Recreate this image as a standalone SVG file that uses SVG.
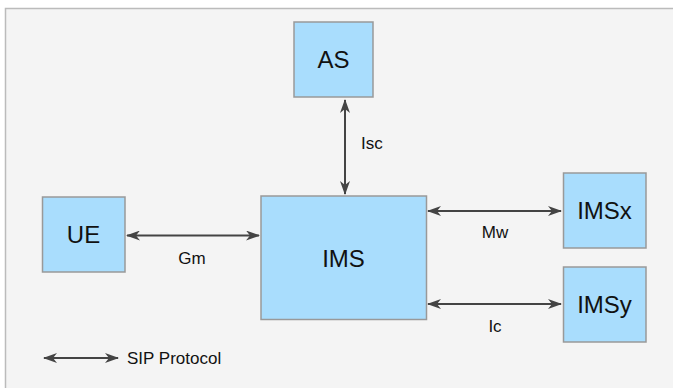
<svg xmlns="http://www.w3.org/2000/svg" width="673" height="388" viewBox="0 0 673 388">
<defs>
<marker id="ah" viewBox="0 0 14 10" refX="13" refY="5" markerWidth="14" markerHeight="10" markerUnits="userSpaceOnUse" orient="auto-start-reverse">
<path d="M0,0 L14,5 L0,10 L4,5 Z" fill="#444"/>
</marker>
</defs>
<style>
.node rect{fill:#a9ddfd;stroke:#999;stroke-width:1.5}
.node text{font-family:"Liberation Sans",Arial,sans-serif;font-size:24px;fill:#111;text-anchor:middle}
.conn line{stroke:#444;stroke-width:2;marker-start:url(#ah);marker-end:url(#ah)}
.lbl{font-family:"Liberation Sans",Arial,sans-serif;font-size:17px;fill:#111}
</style>
<rect x="5.5" y="8.5" width="680" height="390" fill="#f4f4f4" stroke="#bbb" stroke-width="1.5"/>
<g id="AS" class="node"><rect x="294" y="22" width="79" height="75"/><text x="333.5" y="68">AS</text></g>
<g id="UE" class="node"><rect x="42.5" y="197" width="82.5" height="75"/><text x="83.5" y="243">UE</text></g>
<g id="IMS" class="node"><rect x="261" y="196" width="165.5" height="123.5"/><text x="343.5" y="266.5">IMS</text></g>
<g id="IMSx" class="node"><rect x="563.5" y="173" width="82.5" height="75"/><text x="604.5" y="219">IMSx</text></g>
<g id="IMSy" class="node"><rect x="563.5" y="267" width="82.5" height="75"/><text x="604.5" y="313">IMSy</text></g>
<g id="connectors" class="conn">
<line x1="345" y1="100" x2="345" y2="194"/>
<line x1="127" y1="235.5" x2="259" y2="235.5"/>
<line x1="428" y1="211" x2="561" y2="211"/>
<line x1="428" y1="304" x2="561" y2="304"/>
<line x1="44" y1="358" x2="118" y2="358"/>
</g>
<g id="labels" class="lbl">
<text x="361" y="149">Isc</text>
<text x="192" y="264" text-anchor="middle">Gm</text>
<text x="495" y="238" text-anchor="middle">Mw</text>
<text x="495" y="332" text-anchor="middle">Ic</text>
<text x="127" y="364">SIP Protocol</text>
</g>
</svg>
